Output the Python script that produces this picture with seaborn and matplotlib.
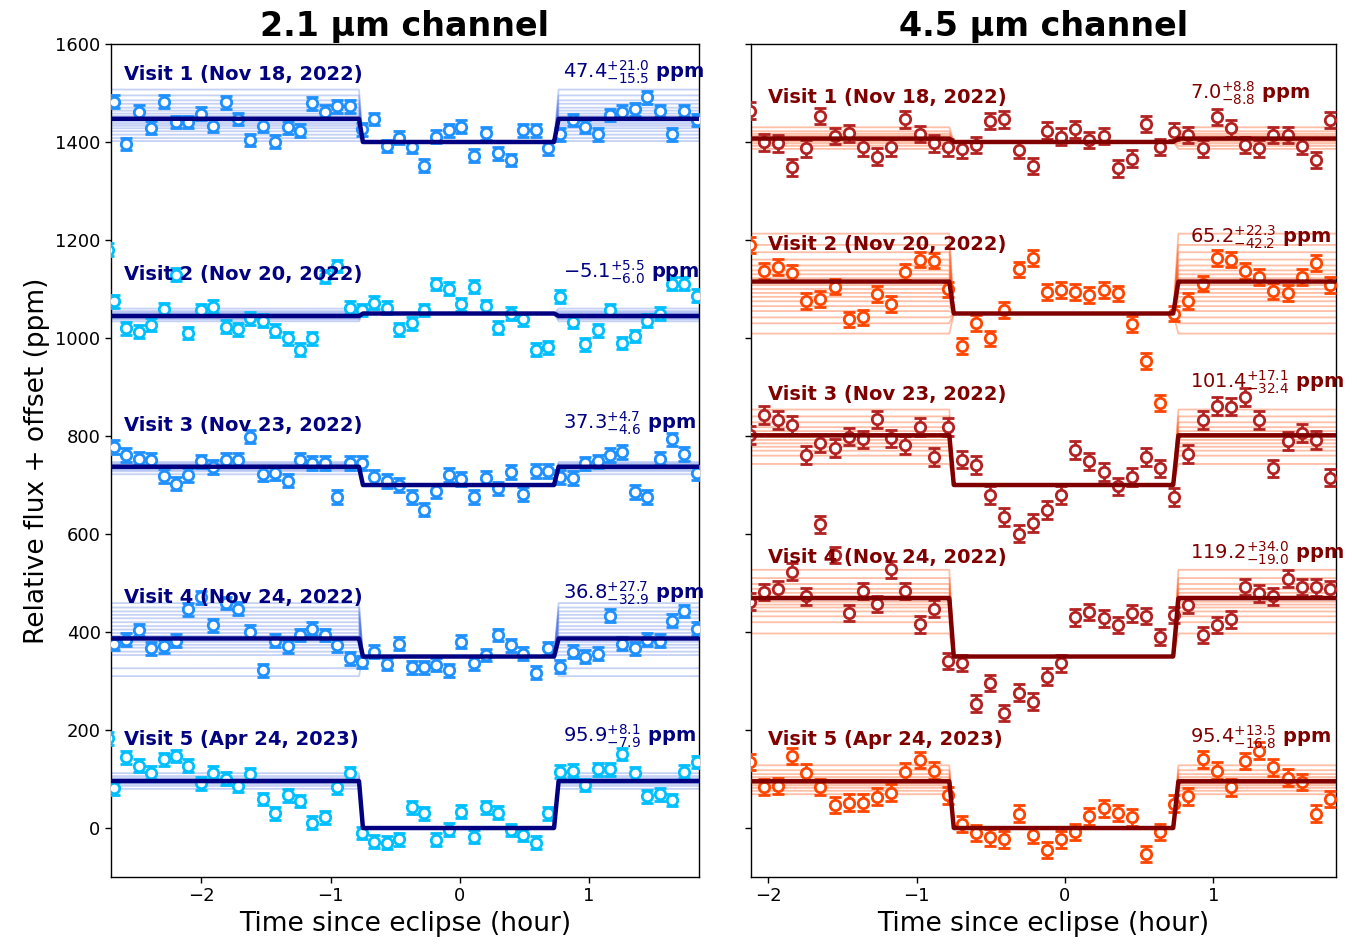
import numpy as np
import matplotlib
matplotlib.use("Agg")
import matplotlib.pyplot as plt
import seaborn as sns

sns.set_style("ticks")
plt.rcParams["font.family"] = ["DejaVu Sans"]
plt.rcParams["mathtext.fontset"] = "dejavusans"
plt.rcParams["axes.edgecolor"] = "black"
plt.rcParams["axes.labelcolor"] = "black"
plt.rcParams["text.color"] = "black"
plt.rcParams["xtick.color"] = "black"
plt.rcParams["ytick.color"] = "black"
plt.rcParams["axes.linewidth"] = 1.0

# ---------------------------------------------------------------- data
visit_names = ["Visit 1 (Nov 18, 2022)", "Visit 2 (Nov 20, 2022)",
               "Visit 3 (Nov 23, 2022)", "Visit 4 (Nov 24, 2022)",
               "Visit 5 (Apr 24, 2023)"]
offsets = [1400, 1050, 700, 350, 0]

# eclipse depths (ppm) with asymmetric uncertainties
depth_21 = [47.4, -5.1, 37.3, 36.8, 95.9]
up_21 = [21.0, 5.5, 4.7, 27.7, 8.1]
lo_21 = [15.5, 6.0, 4.6, 32.9, 7.9]
depth_45 = [7.0, 65.2, 101.4, 119.2, 95.4]
up_45 = [8.8, 22.3, 17.1, 34.0, 13.5]
lo_45 = [8.8, 42.2, 32.4, 19.0, 16.8]

# contact times of the eclipse model (hour)
contacts = [-0.78, -0.75, 0.73, 0.765]

# binned time stamps (hour since eclipse)
time_21 = [-2.677, -2.581, -2.485, -2.389, -2.293, -2.197, -2.101, -2.005,
           -1.909, -1.813, -1.717, -1.621, -1.525, -1.429, -1.333, -1.237,
           -1.141, -1.045, -0.949, -0.853, -0.757, -0.661, -0.565, -0.469,
           -0.373, -0.277, -0.181, -0.085, 0.011, 0.107, 0.203, 0.299,
           0.395, 0.491, 0.587, 0.683, 0.779, 0.875, 0.971, 1.067,
           1.163, 1.259, 1.355, 1.451, 1.547, 1.643, 1.739, 1.835]
time_45 = [-2.127, -2.032, -1.936, -1.841, -1.745, -1.650, -1.554, -1.459,
           -1.363, -1.268, -1.172, -1.077, -0.981, -0.886, -0.790, -0.695,
           -0.599, -0.504, -0.408, -0.313, -0.217, -0.122, -0.026, 0.069,
           0.165, 0.260, 0.356, 0.451, 0.547, 0.642, 0.738, 0.833,
           0.929, 1.024, 1.120, 1.215, 1.311, 1.406, 1.502, 1.597,
           1.693, 1.788]

# 2.1 um binned flux + offset (ppm)
flux_21_v1 = [1482, 1396, 1462, 1429, 1482, 1441, 1441, 1458, 1433, 1481,
              1447, 1404, 1433, 1401, 1430, 1423, 1479, 1462, 1473, 1473,
              1426, 1447, 1392, 1409, 1390, 1352, 1411, 1424, 1431, 1372,
              1418, 1377, 1363, 1424, 1424, 1387, 1416, 1445, 1431, 1416,
              1455, 1462, 1467, 1491, 1463, 1416, 1463, 1445]
flux_21_v2 = [1075, 1020, 1013, 1027, 1059, 1129, 1010, 1057, 1064, 1023,
              1018, 1040, 1035, 1015, 999, 976, 999, 1125, 1147, 1062,
              1057, 1072, 1062, 1018, 1030, 1057, 1110, 1101, 1069, 1105,
              1065, 1021, 1050, 1038, 976, 981, 1084, 1033, 987, 1016,
              1057, 990, 1004, 1035, 1050, 1111, 1111, 1086]
flux_21_v3 = [778, 761, 754, 752, 718, 703, 720, 748, 737, 752,
              751, 799, 722, 725, 709, 751, 745, 745, 675, 745,
              745, 716, 708, 700, 676, 650, 688, 720, 712, 676,
              714, 693, 727, 682, 729, 729, 717, 714, 744, 748,
              761, 768, 686, 676, 754, 793, 763, 725]
flux_21_v4 = [376, 384, 404, 367, 371, 382, 446, 471, 414, 459,
              448, 401, 322, 382, 371, 394, 407, 394, 373, 346,
              339, 360, 335, 376, 328, 328, 333, 322, 380, 336,
              353, 394, 373, 356, 317, 367, 329, 360, 350, 356,
              433, 376, 367, 384, 382, 423, 443, 407]
flux_21_v5 = [81, 144, 127, 113, 140, 147, 127, 91, 113, 101,
              86, 110, 59, 30, 67, 55, 11, 22, 83, 112,
              -10, -28, -30, -23, 42, 30, -24, -3, 33, -18,
              42, 31, -4, -14, -30, 30, 115, 117, 88, 120,
              120, 151, 112, 65, 69, 57, 115, 135]
# bins just before the plotted window (visits 2 and 5)
edge_time_21 = -2.725
edge_flux_21 = {1: 1180, 4: 183}

# 4.5 um binned flux + offset (ppm)
flux_45_v1 = [1464, 1399, 1397, 1348, 1387, 1453, 1412, 1418, 1389, 1370,
              1389, 1446, 1416, 1397, 1389, 1385, 1394, 1443, 1446, 1384,
              1351, 1423, 1411, 1426, 1404, 1412, 1346, 1366, 1437, 1390,
              1421, 1414, 1387, 1451, 1428, 1394, 1387, 1414, 1414, 1392,
              1363, 1445]
flux_45_v2 = [1190, 1137, 1145, 1133, 1076, 1079, 1105, 1038, 1042, 1090,
              1069, 1135, 1160, 1158, 1099, 984, 1030, 999, 1057, 1140,
              1163, 1094, 1098, 1094, 1088, 1098, 1091, 1029, 953, 868,
              1050, 1076, 1111, 1163, 1160, 1137, 1124, 1096, 1092, 1124,
              1153, 1108]
flux_45_v3 = [802, 843, 833, 822, 761, 785, 775, 799, 793, 834,
              795, 782, 819, 757, 818, 752, 741, 680, 635, 601,
              623, 649, 680, 771, 748, 727, 697, 717, 757, 734,
              676, 763, 833, 861, 860, 879, 833, 734, 790, 806,
              792, 715]
flux_45_v4 = [462, 482, 487, 523, 473, 620, 557, 439, 484, 457,
              528, 484, 416, 448, 341, 337, 254, 296, 235, 276,
              258, 309, 336, 430, 441, 428, 414, 438, 433, 390,
              435, 455, 394, 414, 426, 492, 479, 473, 509, 492,
              491, 487]
flux_45_v5 = [135, 84, 86, 147, 113, 84, 47, 52, 52, 64,
              72, 115, 139, 117, 67, 8, -10, -19, -23, 29,
              -14, -45, -23, -8, 24, 40, 31, 22, -53, -8,
              50, 65, 140, 117, 83, 137, 158, 124, 103, 94,
              29, 59]

err_21 = [13, 13, 14, 13, 13]
err_45 = [17, 16, 18, 17, 17]

# posterior draws of the eclipse depth (ppm)
draws_21 = [
    [107, 95, 85, 78, 70, 64, 58, 53, 49, 45, 41, 37, 33, 28, 22, 15, 8, 2],
    [10, 5, 2, 0, -2, -4, -5, -6, -8, -10, -12, -16],
    [47, 44, 42, 40, 38, 37, 36, 35, 33, 31, 28, 22],
    [109, 100, 92, 85, 78, 70, 62, 55, 48, 42, 36, 30, 24, 18, 10, 3, -24, -40],
    [112, 106, 102, 99, 97, 95, 93, 90, 86, 80],
]
draws_45 = [
    [30, 22, 17, 13, 10, 7, 4, 1, -3, -8, -14],
    [163, 140, 125, 110, 98, 88, 80, 72, 65, 58, 50, 42, 34, 25, 15, 5, -8, -20, -41],
    [154, 140, 128, 118, 110, 104, 98, 92, 85, 78, 70, 60, 43],
    [177, 160, 148, 138, 130, 123, 117, 112, 106, 100, 92, 82, 70, 47],
    [128, 118, 110, 104, 99, 95, 91, 87, 82, 76, 69],
]

fluxes_21 = [flux_21_v1, flux_21_v2, flux_21_v3, flux_21_v4, flux_21_v5]
fluxes_45 = [flux_45_v1, flux_45_v2, flux_45_v3, flux_45_v4, flux_45_v5]

pt_colors_21 = ["dodgerblue", "deepskyblue", "dodgerblue", "dodgerblue", "deepskyblue"]
pt_colors_45 = ["firebrick", "orangered", "firebrick", "firebrick", "orangered"]


def eclipse_model(t, depth, offset, xlo, xhi):
    knots = [xlo, contacts[0], contacts[1], contacts[2], contacts[3], xhi]
    vals = [offset + depth, offset + depth, offset, offset,
            offset + depth, offset + depth]
    return np.interp(t, knots, vals)


panels = [
    dict(title="2.1 µm channel", times=time_21, fluxes=fluxes_21, err=err_21,
         depth=depth_21, up=up_21, lo=lo_21, draws=draws_21,
         pcolors=pt_colors_21, dark="navy", band="royalblue", band_alpha=0.3,
         xlim=(-2.70, 1.852), label_x=-2.6, val_x=0.80,
         label_y=[1526, 1118, 811, 460, 169],
         val_y=[1529, 1122, 814, 467, 174]),
    dict(title="4.5 µm channel", times=time_45, fluxes=fluxes_45, err=err_45,
         depth=depth_45, up=up_45, lo=lo_45, draws=draws_45,
         pcolors=pt_colors_45, dark="maroon", band="orangered", band_alpha=0.35,
         xlim=(-2.117, 1.825), label_x=-2.0, val_x=0.84,
         label_y=[1480, 1180, 873, 541, 169],
         val_y=[1487, 1194, 898, 548, 173]),
]

fig = plt.figure(figsize=(13.57, 9.46), dpi=100)
ax_l = fig.add_axes([0.0818, 0.0729, 0.4333, 0.8806])
ax_r = fig.add_axes([0.5535, 0.0729, 0.4307, 0.8806], sharey=ax_l)

for ax, p in zip([ax_l, ax_r], panels):
    xlo, xhi = p["xlim"]
    tt = np.linspace(xlo - 0.1, xhi + 0.1, 3000)
    t = np.array(p["times"])
    for i in range(5):
        off = offsets[i]
        # posterior draws
        for d in p["draws"][i]:
            ax.plot(tt, eclipse_model(tt, d, off, xlo - 0.1, xhi + 0.1),
                    color=p["band"], alpha=p["band_alpha"], lw=1.3, zorder=1)
        # binned data
        y = np.array(p["fluxes"][i])
        ax.errorbar(t, y, yerr=p["err"][i], fmt="o", ms=7.5, mfc="white",
                    mec=p["pcolors"][i], mew=2, ecolor=p["pcolors"][i],
                    elinewidth=2, capsize=4, capthick=2, zorder=3)
        if ax is ax_l and i in edge_flux_21:
            ax.errorbar([edge_time_21], [edge_flux_21[i]], yerr=p["err"][i],
                        fmt="o", ms=7.5, mfc="white", mec=p["pcolors"][i], mew=2,
                        ecolor=p["pcolors"][i], elinewidth=2, capsize=4,
                        capthick=2, zorder=3)
        # best-fit model
        sns.lineplot(x=tt, y=eclipse_model(tt, p["depth"][i], off, xlo - 0.1, xhi + 0.1),
                     ax=ax, color=p["dark"], lw=3.2, estimator=None, zorder=4)
        # annotations
        ax.text(p["label_x"], p["label_y"][i], visit_names[i], color=p["dark"],
                fontsize=14, fontweight="bold", ha="left", va="baseline", zorder=6)
        val = (f"${p['depth'][i]:.1f}^{{+{p['up'][i]:.1f}}}_{{-{p['lo'][i]:.1f}}}$"
               " ppm")
        ax.text(p["val_x"], p["val_y"][i], val, color=p["dark"], fontsize=14,
                fontweight="bold", ha="left", va="baseline", zorder=6)

    ax.set_xlim(xlo, xhi)
    ax.set_title(p["title"], fontsize=24, fontweight="bold", color="black")
    ax.set_xlabel("Time since eclipse (hour)", fontsize=19)
    ax.set_xticks([-2, -1, 0, 1])
    ax.tick_params(labelsize=13, length=4, width=1, direction="out")
    for s in ax.spines.values():
        s.set_visible(True)
        s.set_color("black")

ax_l.set_ylim(-100, 1600)
ax_l.set_yticks(range(0, 1601, 200))
ax_l.set_ylabel("Relative flux + offset (ppm)", fontsize=19)
ax_r.tick_params(labelleft=False)
ax_r.set_ylabel("")

fig.savefig("out.png", dpi=100)
